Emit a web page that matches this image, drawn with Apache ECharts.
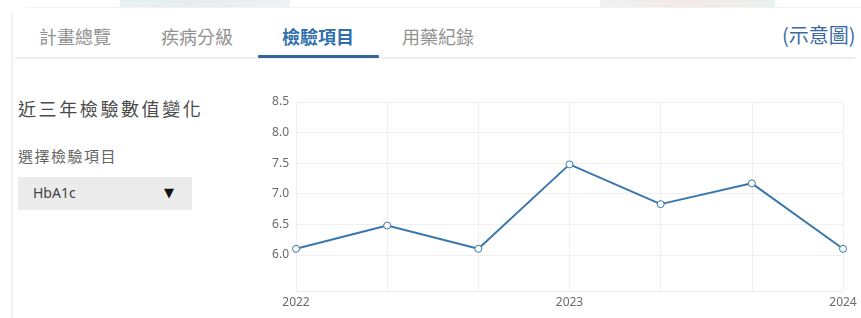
<!DOCTYPE html>
<html>
<head>
<meta charset="utf-8">
<script src="https://cdn.jsdelivr.net/npm/echarts@6/dist/echarts.min.js"></script>
<style>
  body { margin: 0; width: 861px; height: 318px; overflow: hidden; background: #fff;
         font-family: "Noto Sans CJK TC", "Noto Sans", sans-serif; position: relative; }
  .abs { position: absolute; white-space: nowrap; }
  .tab { top: 24px; font-size: 18px; line-height: 24px; color: #929292; }
</style>
</head>
<body>
<div class="abs" style="left:120px;top:0;width:170px;height:7px;background:linear-gradient(90deg,#e9f2f2,#e6ecef 40%,#eef2f3);"></div>
<div class="abs" style="left:600px;top:0;width:175px;height:7px;background:linear-gradient(90deg,#eef2f2,#f4e9e7 50%,#e9f2ef);"></div>
<div class="abs" style="left:25px;top:7px;width:836px;height:1px;background:#f2f2f2;"></div>
<div class="abs" style="left:11px;top:13px;width:2px;height:305px;background:#f0f0f0;"></div>

<div class="abs tab" style="left:39px;">計畫總覽</div>
<div class="abs tab" style="left:161px;">疾病分級</div>
<div class="abs tab" style="left:282px;color:#2f6fae;font-weight:bold;">檢驗項目</div>
<div class="abs tab" style="left:402px;">用藥紀錄</div>
<div class="abs" style="left:782px;top:22px;font-size:20px;line-height:26px;color:#3a6ca3;">(示意圖)</div>
<div class="abs" style="left:15px;top:57px;width:840px;height:2px;background:#eeeeee;"></div>
<div class="abs" style="left:258px;top:55px;width:121px;height:3px;background:#33649a;border-radius:1px;"></div>

<div class="abs" style="left:18px;top:96px;font-size:18px;line-height:24px;letter-spacing:2.6px;color:#4a4a4a;">近三年檢驗數值變化</div>
<div class="abs" style="left:18px;top:146px;font-size:15px;line-height:20px;letter-spacing:1.5px;color:#666;">選擇檢驗項目</div>
<div class="abs" style="left:18px;top:177px;width:174px;height:33px;background:#ebebeb;"></div>
<div class="abs" style="left:33px;top:183px;font-size:14px;line-height:20px;color:#444;font-family:'Noto Sans',sans-serif;">HbA1c</div>
<div class="abs" style="left:164px;top:184px;font-size:13px;line-height:18px;color:#111;font-family:'DejaVu Sans',sans-serif;">▼</div>

<div id="main" class="abs" style="left:0;top:0;width:861px;height:318px;"></div>
<script>
// HbA1c readings, roughly every four months
const periods = ['2022', '2022-05', '2022-09', '2023', '2023-05', '2023-09', '2024']
const hba1c = [6.1, 6.48, 6.1, 7.48, 6.83, 7.17, 6.1]
const yTicks = [6.0, 6.5, 7.0, 7.5, 8.0, 8.5]

var myChart = echarts.init(document.getElementById('main'))
myChart.setOption({
    animation: false,
    textStyle: { fontFamily: 'Noto Sans' },
    grid: { left: 296, right: 18, top: 102, bottom: 27 },
    xAxis: {
        type: 'category',
        boundaryGap: false,
        data: periods,
        axisLine: { show: true, lineStyle: { color: '#ececec' } },
        axisTick: { show: false, interval: 0 },
        axisLabel: {
            interval: 2,
            color: '#6a6a6a',
            fontSize: 12,
            margin: 6,
            formatter: v => v.slice(0, 4)
        },
        splitLine: { show: true, interval: 0, lineStyle: { color: '#efefef' } }
    },
    yAxis: {
        type: 'value',
        min: 5.41,
        max: 8.5,
        axisLine: { show: false },
        axisTick: { show: false, customValues: yTicks },
        axisLabel: {
            customValues: yTicks,
            color: '#6a6a6a',
            fontSize: 12,
            margin: 7,
            formatter: v => v.toFixed(1)
        },
        splitLine: { show: true, lineStyle: { color: '#efefef' } }
    },
    series: [{
        type: 'line',
        data: hba1c,
        symbol: 'circle',
        symbolSize: 7,
        lineStyle: { color: '#3a77ad', width: 2 },
        itemStyle: { color: '#fff', borderColor: '#3a77ad', borderWidth: 1 }
    }]
})
</script>
</body>
</html>
